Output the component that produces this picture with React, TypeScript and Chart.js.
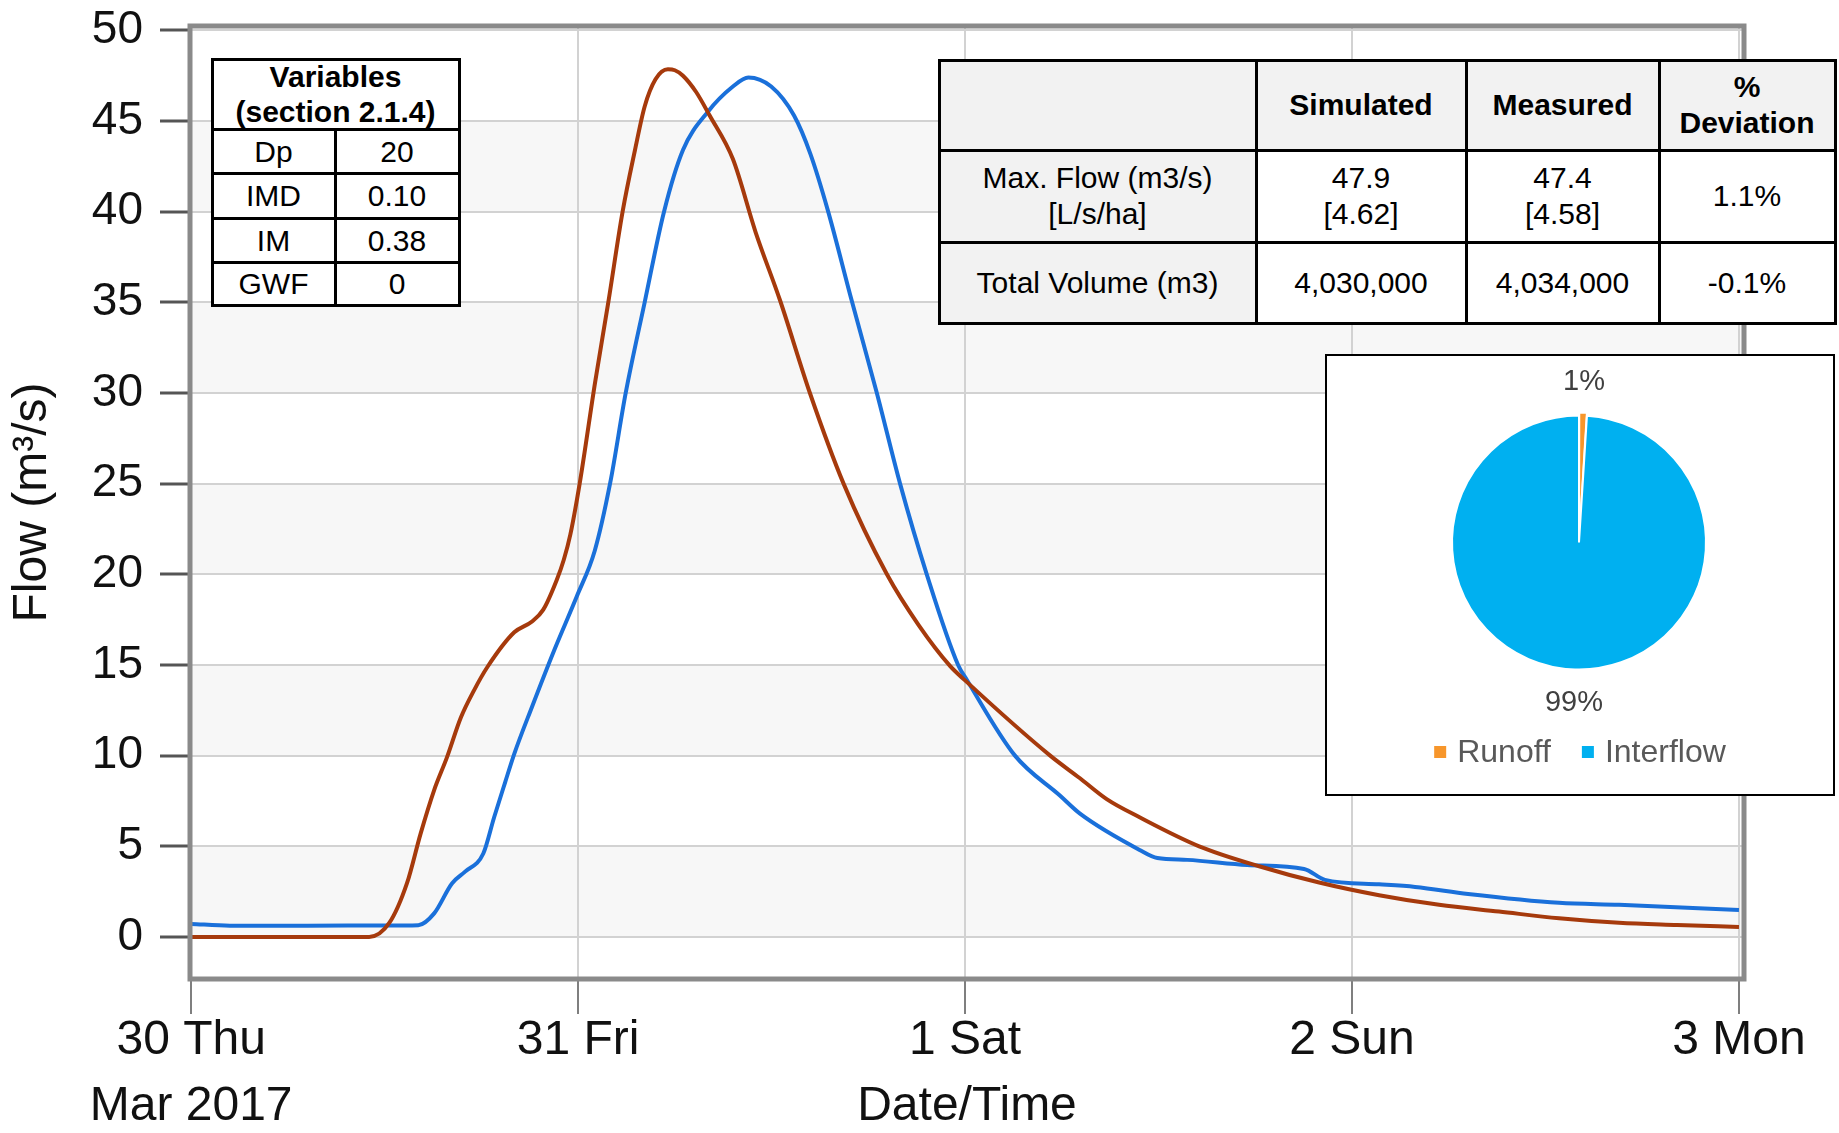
import React, { useEffect, useRef } from 'react';
import { Chart, registerables } from 'chart.js';

Chart.register(...registerables);

const FONT = "'Liberation Sans', Arial, Helvetica, sans-serif";

// ---- hydrograph data (time in days from 30 Mar 2017 00:00, flow in m3/s) ----
const simTimes = [0, 0.46, 0.512, 0.558, 0.593, 0.628, 0.661, 0.697, 0.731, 0.766, 0.835, 0.881, 0.91, 0.945, 0.963, 0.98, 1.004, 1.044, 1.078, 1.115, 1.147, 1.172, 1.2, 1.232, 1.25, 1.271, 1.305, 1.34, 1.4, 1.459, 1.522, 1.599, 1.686, 1.798, 1.88, 1.961, 2.0, 2.22, 2.297, 2.366, 2.451, 2.605, 2.76, 2.915, 3.07, 3.225, 3.38, 3.535, 3.69, 3.84, 4.0];
const simFlow = [0, 0, 0.77, 2.98, 5.7, 8.1, 9.9, 12.1, 13.6, 14.9, 16.8, 17.4, 18.05, 19.7, 20.8, 22.2, 25.0, 30.6, 35.0, 40.0, 43.4, 45.8, 47.3, 47.85, 47.8, 47.5, 46.6, 45.3, 42.9, 38.85, 35.1, 30.0, 25.0, 20.0, 17.2, 14.95, 14.15, 10.0, 8.75, 7.6, 6.6, 5.0, 3.9, 3.0, 2.3, 1.77, 1.4, 1.03, 0.78, 0.66, 0.55];

const measTimes = [0, 0.1, 0.3, 0.5, 0.587, 0.628, 0.674, 0.708, 0.755, 0.783, 0.811, 0.835, 0.881, 0.938, 0.997, 1.043, 1.083, 1.123, 1.172, 1.222, 1.271, 1.335, 1.4, 1.44, 1.499, 1.558, 1.6, 1.645, 1.707, 1.772, 1.832, 1.901, 1.982, 2.004, 2.129, 2.245, 2.297, 2.451, 2.497, 2.574, 2.729, 2.876, 2.93, 3.07, 3.163, 3.3, 3.535, 3.69, 4.0];
const measFlow = [0.72, 0.62, 0.62, 0.63, 0.65, 1.3, 2.95, 3.6, 4.6, 6.6, 8.5, 10.1, 12.7, 15.8, 18.8, 21.3, 25.05, 30.0, 35.0, 40.0, 43.4, 45.5, 46.9, 47.4, 46.9, 45.3, 43.2, 40.1, 35.1, 30.0, 25.0, 20.0, 15.0, 14.2, 10.0, 7.8, 6.8, 4.8, 4.35, 4.25, 3.97, 3.75, 3.15, 2.9, 2.76, 2.37, 1.88, 1.77, 1.49];

const xTickValues = [0, 1, 2, 3, 4];
const xTickLabels: (string | string[])[] = [['30 Thu', 'Mar 2017'], '31 Fri', '1 Sat', '2 Sun', '3 Mon'];
const yTickValues = [0, 5, 10, 15, 20, 25, 30, 35, 40, 45, 50];
const yBandStarts = [0, 10, 20, 30, 40];

// ---- pie data ----
const pieLabels = ['Runoff', 'Interflow'];
const pieValues = [1, 99];
const pieColors = ['#F7962B', '#00B0F0'];

// ---- tables ----
const varHeader = 'Variables\n(section 2.1.4)';
const varNames = ['Dp', 'IMD', 'IM', 'GWF'];
const varValues = ['20', '0.10', '0.38', '0'];

const statHeader = ['', 'Simulated', 'Measured', '%\nDeviation'];
const statLabels = ['Max. Flow (m3/s)\n[L/s/ha]', 'Total Volume (m3)'];
const statSimulated = ['47.9\n[4.62]', '4,030,000'];
const statMeasured = ['47.4\n[4.58]', '4,034,000'];
const statDeviation = ['1.1%', '-0.1%'];

type Cell = { r: number; c: number; cs?: number; text: string; bold?: boolean; bg?: string };

function GridTable(props: { xs: number[]; ys: number[]; bw: number; cells: Cell[]; fontSize: number; lineHeight: number }) {
  const { xs, ys, bw, cells, fontSize, lineHeight } = props;
  const left = xs[0] - bw / 2;
  const top = ys[0] - bw / 2;
  const W = xs[xs.length - 1] - xs[0] + bw;
  const H = ys[ys.length - 1] - ys[0] + bw;
  return (
    <div style={{ position: 'absolute', left, top, width: W, height: H, background: '#000' }}>
      {cells.map((cl, i) => {
        const x0 = xs[cl.c] + bw / 2 - left;
        const x1 = xs[cl.c + (cl.cs || 1)] - bw / 2 - left;
        const y0 = ys[cl.r] + bw / 2 - top;
        const y1 = ys[cl.r + 1] - bw / 2 - top;
        return (
          <div
            key={i}
            style={{
              position: 'absolute', left: x0, top: y0, width: x1 - x0, height: y1 - y0,
              background: cl.bg || '#fff', display: 'flex', alignItems: 'center', justifyContent: 'center',
              textAlign: 'center', whiteSpace: 'pre-line', fontWeight: cl.bold ? 700 : 400,
              fontSize, lineHeight: lineHeight + 'px', color: '#000', fontFamily: FONT,
            }}
          >
            {cl.text}
          </div>
        );
      })}
    </div>
  );
}

const bandsPlugin = {
  id: 'bands',
  beforeDraw(chart: any) {
    const { ctx, chartArea: a, scales } = chart;
    const y = scales.y;
    ctx.save();
    ctx.fillStyle = '#ffffff';
    ctx.fillRect(0, 0, chart.width, chart.height);
    ctx.fillStyle = '#f7f7f7';
    yBandStarts.forEach((v) => {
      const t = y.getPixelForValue(v + 5);
      const b = y.getPixelForValue(v);
      ctx.fillRect(a.left, t, a.right - a.left, b - t);
    });
    ctx.restore();
  },
};

const framePlugin = {
  id: 'frame',
  afterDatasetsDraw(chart: any) {
    const { ctx, chartArea: a } = chart;
    ctx.save();
    ctx.strokeStyle = '#8a8a8a';
    ctx.lineWidth = 5;
    ctx.strokeRect(a.left, a.top, a.right - a.left, a.bottom - a.top);
    ctx.restore();
  },
};

const pieLabelPlugin = {
  id: 'pieLabels',
  afterDraw(chart: any) {
    const { ctx } = chart;
    const meta = chart.getDatasetMeta(0);
    ctx.save();
    ctx.font = `29px ${FONT}`;
    ctx.fillStyle = '#404040';
    ctx.textAlign = 'center';
    ctx.textBaseline = 'middle';
    meta.data.forEach((arc: any, i: number) => {
      const mid = (arc.startAngle + arc.endAngle) / 2;
      const r = arc.outerRadius + 34;
      ctx.fillText(`${pieValues[i]}%`, arc.x + Math.cos(mid) * r, arc.y + Math.sin(mid) * r);
    });
    // legend
    const ly = 396;
    ctx.font = `32px ${FONT}`;
    const box = 12, gapBox = 11, gapItem = 31;
    const widths = pieLabels.map((l) => ctx.measureText(l).width);
    const total = widths.reduce((s, w) => s + box + gapBox + w, 0) + gapItem * (pieLabels.length - 1);
    let x = chart.width / 2 - total / 2;
    ctx.textAlign = 'left';
    pieLabels.forEach((l, i) => {
      ctx.fillStyle = pieColors[i];
      ctx.fillRect(x, ly - box / 2, box, box);
      x += box + gapBox;
      ctx.fillStyle = '#595959';
      ctx.fillText(l, x, ly + 1);
      x += widths[i] + gapItem;
    });
    ctx.restore();
  },
};

export default function App() {
  const mainRef = useRef<HTMLCanvasElement | null>(null);
  const pieRef = useRef<HTMLCanvasElement | null>(null);

  useEffect(() => {
    Chart.defaults.font.family = FONT;
    const main = new Chart(mainRef.current as HTMLCanvasElement, {
      type: 'line',
      data: {
        datasets: [
          {
            label: 'Simulated',
            data: simTimes.map((x, i) => ({ x, y: simFlow[i] })),
            borderColor: '#A63A0C',
            borderWidth: 4,
            pointRadius: 0,
            cubicInterpolationMode: 'monotone',
            fill: false,
          },
          {
            label: 'Measured',
            data: measTimes.map((x, i) => ({ x, y: measFlow[i] })),
            borderColor: '#1A70DA',
            borderWidth: 4,
            pointRadius: 0,
            cubicInterpolationMode: 'monotone',
            fill: false,
          },
        ],
      },
      options: {
        animation: false,
        responsive: false,
        layout: { padding: { left: 0, top: 26, right: 95, bottom: 0 } },
        plugins: { legend: { display: false }, tooltip: { enabled: false } },
        scales: {
          x: {
            type: 'linear',
            min: -0.003,
            max: 4.013,
            afterBuildTicks: (s: any) => { s.ticks = xTickValues.map((v) => ({ value: v })); },
            afterFit: (s: any) => { s.height = 154; s.paddingLeft = 0; s.paddingRight = 0; },
            border: { display: false },
            grid: { color: '#d2d2d2', lineWidth: 2, tickLength: 35, tickColor: '#555', tickWidth: 1.5 },
            ticks: {
              autoSkip: false,
              maxRotation: 0,
              padding: -6,
              color: '#111',
              font: { size: 48, lineHeight: 1.375 },
              callback: (_v: any, i: number) => xTickLabels[i],
            },
            title: { display: true, text: 'Date/Time', color: '#111', font: { size: 48, lineHeight: 1.1 }, padding: { top: 0, bottom: 0 } },
          },
          y: {
            min: -2.32,
            max: 50.24,
            afterBuildTicks: (s: any) => { s.ticks = yTickValues.map((v) => ({ value: v })); },
            afterFit: (s: any) => { s.width = 190; s.paddingTop = 0; s.paddingBottom = 0; },
            border: { display: false },
            grid: { color: '#d2d2d2', lineWidth: 2, tickLength: 30, tickColor: '#555', tickWidth: 3 },
            ticks: { padding: 17, color: '#111', font: { size: 46 } },
            title: { display: true, text: 'Flow (m³/s)', color: '#111', font: { size: 48 }, padding: { top: 4, bottom: 0 } },
          },
        },
      },
      plugins: [bandsPlugin, framePlugin],
    } as any);

    const pie = new Chart(pieRef.current as HTMLCanvasElement, {
      type: 'pie',
      data: {
        labels: pieLabels,
        datasets: [{ data: pieValues, backgroundColor: pieColors, borderColor: '#ffffff', borderWidth: 2, offset: [6, 0] }],
      },
      options: {
        animation: false,
        responsive: false,
        layout: { padding: { left: 121, top: 55.5, right: 123, bottom: 120.5 } },
        plugins: { legend: { display: false }, tooltip: { enabled: false } },
      },
      plugins: [pieLabelPlugin],
    } as any);

    return () => {
      main.destroy();
      pie.destroy();
    };
  }, []);

  const varCells: Cell[] = [{ r: 0, c: 0, cs: 2, text: varHeader, bold: true }];
  varNames.forEach((n, i) => {
    varCells.push({ r: i + 1, c: 0, text: n });
    varCells.push({ r: i + 1, c: 1, text: varValues[i] });
  });

  const gray = '#f2f2f2';
  const statCells: Cell[] = statHeader.map((h, c) => ({ r: 0, c, text: h, bold: true, bg: gray }));
  statLabels.forEach((l, i) => {
    statCells.push({ r: i + 1, c: 0, text: l, bg: gray });
    statCells.push({ r: i + 1, c: 1, text: statSimulated[i] });
    statCells.push({ r: i + 1, c: 2, text: statMeasured[i] });
    statCells.push({ r: i + 1, c: 3, text: statDeviation[i] });
  });

  return (
    <div style={{ position: 'absolute', left: 0, top: 0, width: 1839, height: 1133, background: '#fff', overflow: 'hidden' }}>
      <canvas ref={mainRef} width={1839} height={1133} style={{ position: 'absolute', left: 0, top: 0, width: 1839, height: 1133 }} />
      <GridTable xs={[212, 335, 459]} ys={[59, 129, 173, 218, 262, 305]} bw={3} cells={varCells} fontSize={30} lineHeight={35} />
      <GridTable xs={[939, 1256, 1466, 1659, 1835]} ys={[60, 150, 242, 323]} bw={3} cells={statCells} fontSize={30} lineHeight={36} />
      <div style={{ position: 'absolute', left: 1325, top: 354, width: 510, height: 442, border: '2px solid #000', boxSizing: 'border-box', background: '#fff' }}>
        <canvas ref={pieRef} width={506} height={438} style={{ position: 'absolute', left: 0, top: 0, width: 506, height: 438 }} />
      </div>
    </div>
  );
}
